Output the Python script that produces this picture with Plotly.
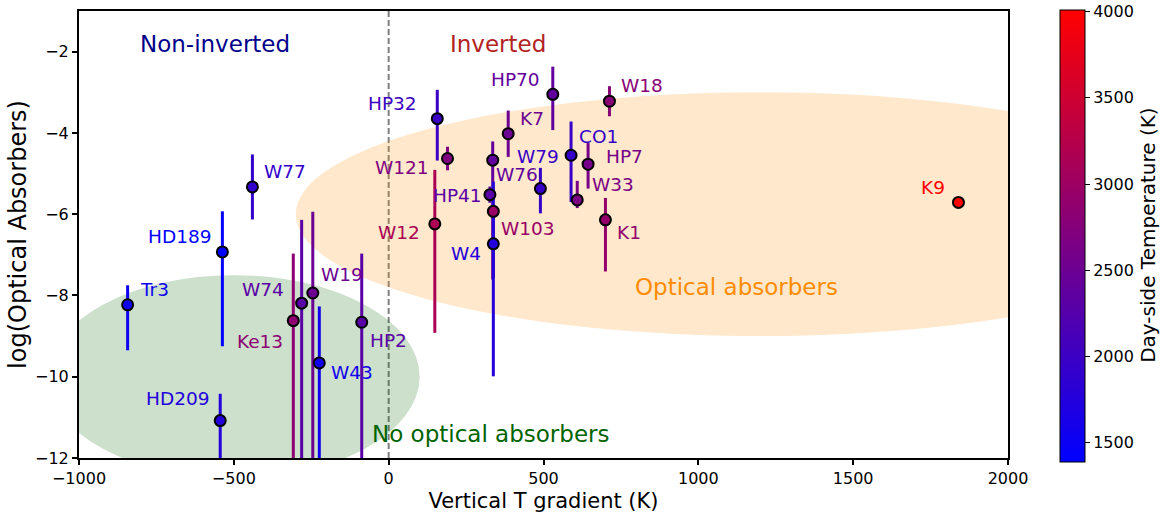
import plotly.graph_objects as go
from plotly.colors import sample_colorscale

# planets: name, vertical T gradient (K), log(optical absorbers), errors, day-side T (K)
names = ['Tr3', 'HD189', 'HD209', 'W77', 'W74', 'Ke13', 'W19', 'W43', 'HP2',
         'HP32', 'W121', 'W12', 'W76', 'HP41', 'W103', 'W4', 'K7', 'HP70',
         'W79', 'CO1', 'HP7', 'W33', 'W18', 'K1', 'K9']
dT = [-843, -537, -544, -440, -281, -308, -245, -224, -87,
      157, 190, 149, 336, 327, 338, 338, 386, 530,
      490, 589, 644, 609, 713, 700, 1840]
log_abs = [-8.23, -6.93, -11.08, -5.33, -8.19, -8.62, -7.94, -9.66, -8.66,
           -3.65, -4.63, -6.24, -4.67, -5.52, -5.93, -6.73, -4.02, -3.05,
           -5.37, -4.55, -4.77, -5.65, -3.22, -6.14, -5.71]
err_plus = [0.48, 1.0, 0.66, 0.8, 2.05, 1.65, 2.0, 1.39, 1.69,
            0.71, 0.29, 1.33, 0.46, 0.2, 0.15, 1.53, 0.57, 0.68,
            0.51, 0.83, 0.52, 0.47, 0.37, 0.54, 0.1]
err_minus = [1.12, 2.32, 1.5, 0.8, 4.0, 4.0, 5.0, 3.0, 4.0,
             1.03, 0.29, 2.68, 2.94, 0.2, 1.64, 3.26, 0.57, 0.88,
             0.61, 1.15, 0.6, 0.2, 0.37, 1.27, 0.1]
T_day = [1530, 1390, 1750, 1900, 2300, 2850, 2500, 1560, 2300,
         2000, 2700, 3150, 2400, 2300, 2950, 1750, 2500, 2400,
         1950, 1950, 2600, 2650, 2800, 2900, 4010]

# label placement: (xanchor, x offset px, y offset px, down positive)
label_pos = [('left', 10, -15), ('right', -9, -15), ('right', -9, -22), ('left', 10, -15),
             ('right', -16, -14), ('right', -8, 21), ('left', 6, -19), ('left', 10, 10),
             ('left', 6, 18), ('right', -18, -15), ('right', -17, 9), ('right', -13, 9),
             ('left', 1, 14), ('right', -6, 1), ('left', 6, 17), ('right', -10, 10),
             ('left', 10, -15), ('right', -11, -15), ('center', -2, -32), ('left', 6, -19),
             ('left', 16, -8), ('left', 13, -15), ('left', 10, -16), ('left', 10, 13),
             ('right', -11, -15)]

# regions
optical_centre, optical_size = (1200, -6), (3000, 6)
no_optical_centre, no_optical_size = (-500, -10), (1200, 5)

font = 'DejaVu Sans'
scale = [[0, 'rgb(0,0,255)'], [1, 'rgb(255,0,0)']]
t_min, t_max = min(T_day), max(T_day)
colors = sample_colorscale(scale, [(t - t_min) / (t_max - t_min) for t in T_day])

fig = go.Figure()

for i in range(len(names)):
    fig.add_trace(go.Scatter(
        x=[dT[i]], y=[log_abs[i]], mode='markers',
        marker=dict(size=1, color='rgba(0,0,0,0)'),
        error_y=dict(type='data', symmetric=False, array=[err_plus[i]], arrayminus=[err_minus[i]],
                     color=colors[i], thickness=3, width=0),
        showlegend=False, hoverinfo='skip'))

fig.add_trace(go.Scatter(
    x=dT, y=log_abs, mode='markers', text=names, showlegend=False,
    marker=dict(size=11, color=T_day, colorscale=scale, cmin=t_min, cmax=t_max,
                line=dict(color='black', width=2),
                colorbar=dict(
                    thickness=25, lenmode='pixels', len=452, x=1.056, xanchor='left',
                    xpad=0, ypad=0, y=0.497, yanchor='middle',
                    outlinewidth=1, outlinecolor='black',
                    tickvals=[1500, 2000, 2500, 3000, 3500, 4000], ticks='outside',
                    ticklen=5, tickcolor='black', ticklabeloverflow='allow',
                    tickfont=dict(size=16, family=font, color='black')))))

# colorbar title
fig.add_annotation(xref='paper', yref='paper', x=1.1507, y=0.497, text='Day-side Temperature (K)',
                   textangle=-90, showarrow=False, xanchor='center', yanchor='middle',
                   font=dict(size=20, family=font, color='black'))

for i, name in enumerate(names):
    anchor, dx, dy = label_pos[i]
    fig.add_annotation(x=dT[i], y=log_abs[i], text=name, showarrow=False,
                       xanchor=anchor, yanchor='middle', xshift=dx, yshift=-dy,
                       font=dict(size=18.5, family=font, color=colors[i]))

for (cx, cy), (w, h), fill in [(optical_centre, optical_size, 'rgba(255,140,0,0.2)'),
                               (no_optical_centre, no_optical_size, 'rgba(0,100,0,0.2)')]:
    fig.add_shape(type='circle', xref='x', yref='y', x0=cx - w / 2, x1=cx + w / 2,
                  y0=cy - h / 2, y1=cy + h / 2, fillcolor=fill, line_width=0, layer='below')

fig.add_shape(type='line', xref='x', yref='paper', x0=0, x1=0, y0=0, y1=1,
              line=dict(color='gray', width=2, dash='6px,3px'), layer='below')

region_text = [('Non-inverted', -800, -2, 'darkblue'),
               ('Inverted', 200, -2, 'firebrick'),
               ('Optical absorbers', 800, -8, 'darkorange'),
               ('No optical absorbers', -50, -11.6, 'darkgreen')]
for text, x, y, c in region_text:
    fig.add_annotation(x=x, y=y, text=text, showarrow=False, xanchor='left', yanchor='middle',
                       xshift=-3, yshift=8, font=dict(size=23, family=font, color=c))

fig.update_layout(
    width=1161, height=514,
    plot_bgcolor='white', paper_bgcolor='white',
    font=dict(family=font, color='black'),
    margin=dict(l=79, r=153, t=11, b=56, autoexpand=False),
    xaxis=dict(
        title=dict(text='Vertical T gradient (K)', font=dict(size=21), standoff=6),
        range=[-1000, 2000], tickvals=[-1000, -500, 0, 500, 1000, 1500, 2000],
        showgrid=False, zeroline=False, showline=True, linecolor='black', linewidth=2,
        mirror=True, ticks='outside', ticklen=5, tickwidth=1.5, tickcolor='black',
        tickfont=dict(size=16),
    ),
    yaxis=dict(
        title=dict(text='log(Optical Absorbers)', font=dict(size=24), standoff=2),
        range=[-12, -1], tickvals=[-12, -10, -8, -6, -4, -2],
        showgrid=False, zeroline=False, showline=True, linecolor='black', linewidth=2,
        mirror=True, ticks='outside', ticklen=5, tickwidth=1.5, tickcolor='black',
        tickfont=dict(size=16),
    ),
)

# drop the default page margin so the figure sits at the window corner
fig.write_html('out.html', config={'displayModeBar': False},
               post_script="document.body.style.margin = '0';")
